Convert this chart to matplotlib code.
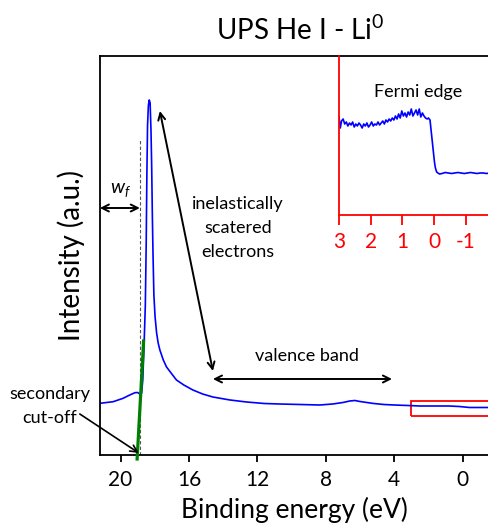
import matplotlib
matplotlib.use("Agg")
import matplotlib.pyplot as plt
from matplotlib.patches import Rectangle

plt.rcParams.update({
    "font.family": ["Lato", "DejaVu Sans"],
    "mathtext.fontset": "custom",
    "mathtext.rm": "Lato",
    "mathtext.it": "Lato:italic",
    "axes.linewidth": 1.3,
    "axes.unicode_minus": False,
})

# UPS He I spectrum (binding energy in eV, intensity in a.u.)
main_ev = [21.2, 20.43, 19.85, 19.46, 19.16, 19.0, 18.87, 18.77, 18.7, 18.62,
           18.55, 18.5, 18.46, 18.42, 18.37, 18.32, 18.27, 18.22, 18.18, 18.14,
           18.1, 18.05, 17.98, 17.89, 17.8, 17.7, 17.5, 17.31, 17.0, 16.73,
           16.3, 15.77, 15.2, 14.6, 13.6, 12.63, 11.6, 10.7, 9.5, 8.35,
           7.6, 7.0, 6.6, 6.3, 6.0, 5.6, 5.2, 4.6, 4.0, 3.2,
           2.5, 1.6, 0.8, 0.2, -0.1, -0.4, -0.8, -1.2, -1.6]
main_int = [51.7, 53.3, 56.7, 60, 62.3, 62.5, 61, 61.7, 75, 112,
            150, 210, 280, 330, 350, 355, 352, 325, 290, 240,
            200, 160, 138, 122, 112, 105, 95, 88, 81, 75,
            70, 65, 61, 58, 55, 53, 51.5, 51, 50.5, 50,
            51, 52.5, 54, 54.5, 53.5, 52.5, 51.5, 50.5, 50, 49.5,
            49, 49, 49, 48.5, 48, 47.5, 47.5, 47.5, 47.5]

# linear fit of the secondary cut-off
cutoff_ev = [19.03, 18.65]
cutoff_int = [-4, 114]

# Fermi edge zoom
fermi_ev = [3.00, 2.96, 2.92, 2.87, 2.82, 2.77, 2.72, 2.67, 2.62, 2.57,
            2.52, 2.47, 2.42, 2.37, 2.32, 2.27, 2.22, 2.17, 2.12, 2.07,
            2.02, 1.97, 1.92, 1.87, 1.82, 1.77, 1.72, 1.67, 1.62, 1.57,
            1.52, 1.47, 1.42, 1.37, 1.32, 1.27, 1.22, 1.17, 1.12, 1.07,
            1.02, 0.97, 0.92, 0.87, 0.82, 0.77, 0.72, 0.67, 0.62, 0.57,
            0.52, 0.47, 0.42, 0.37, 0.32, 0.27, 0.22, 0.18, 0.13, 0.10,
            0.06, 0.02, -0.01, -0.04, -0.08, -0.12, -0.17, -0.25, -0.35, -0.45,
            -0.55, -0.65, -0.75, -0.85, -0.95, -1.05, -1.15, -1.25, -1.35, -1.45,
            -1.55, -1.65, -1.75]
fermi_int = [98, 87, 94, 96, 91, 93, 89, 92, 90, 93,
             88, 91, 89, 92, 90, 87, 91, 89, 92, 88,
             90, 93, 89, 91, 90, 93, 90, 92, 94, 91,
             95, 93, 96, 94, 97, 95, 99, 96, 101, 97,
             104, 99, 102, 98, 103, 100, 106, 99, 102, 105,
             100, 106, 98, 102, 99, 97, 96, 97, 95, 86,
             74, 62, 53, 47, 43, 42, 41, 41.5, 42.5, 42,
             41.5, 42, 42.5, 42, 41.5, 42, 42.5, 42, 41.5, 42,
             42, 41.5, 42]

fig = plt.figure(figsize=(4.89, 5.29), dpi=100)
ax = fig.add_axes([100/489, 74/529, 389/489, 399/529])

ax.plot(main_ev, main_int, color='blue', lw=1.2)
ax.plot(cutoff_ev, cutoff_int, color='green', lw=2.3, clip_on=False, zorder=3)
ax.plot([18.84, 18.84], [0, 315], color='#555555', lw=0.8, ls=(0, (3, 2)))
ax.add_patch(Rectangle((3, 39), -5, 15, fill=False, ec='red', lw=1.3))

ax.set_xlim(21.2, -1.54)
ax.set_ylim(0, 399)
ax.set_xticks([20, 16, 12, 8, 4, 0])
ax.set_yticks([])
ax.spines['right'].set_visible(False)
ax.tick_params(axis='x', direction='out', length=5, width=1.3, labelsize=15, pad=6)
ax.set_xlabel('Binding energy (eV)', fontsize=19, labelpad=5)
ax.set_ylabel('Intensity (a.u.)', fontsize=20, labelpad=11)

arrow = dict(arrowstyle='<->,head_length=0.5,head_width=0.25', color='black', lw=1.4,
             shrinkA=0, shrinkB=0)
ax.annotate('', xy=(17.70, 344), xytext=(14.60, 84), arrowprops=arrow)
ax.annotate('', xy=(14.6, 76), xytext=(4.13, 76), arrowprops=arrow)
ax.annotate('', xy=(21.21, 247), xytext=(18.87, 247), arrowprops=arrow,
            annotation_clip=False)
ax.annotate('', xy=(18.93, 2), xytext=(22.38, 41), annotation_clip=False,
            arrowprops=dict(arrowstyle='->,head_length=0.5,head_width=0.25',
                            color='black', lw=1.2, shrinkA=0, shrinkB=0))

ax.text(13.13, 227, 'inelastically\nscatered\nelectrons', fontsize=13,
        ha='center', va='center', multialignment='center', linespacing=1.65)
ax.text(9.11, 99, 'valence band', fontsize=13, ha='center', va='center')
ax.text(24.13, 49, 'secondary\ncut-off', fontsize=13, ha='center', va='center',
        multialignment='center', linespacing=1.55, clip_on=False)
ax.text(20.0, 265, '$w_f$', fontsize=14, ha='center', va='center')

fig.text(300/489, 1 - 30/529, 'UPS He I - Li$^0$', fontsize=20, ha='center', va='center')

# inset with the Fermi edge
ins = fig.add_axes([339/489, 314/529, 150/489, 159/529])
ins.patch.set_alpha(0)
ins.plot(fermi_ev, fermi_int, color='blue', lw=1.2)
ins.set_xlim(3, -1.73)
ins.set_ylim(0, 159)
ins.set_xticks([3, 2, 1, 0, -1])
ins.set_yticks([])
for s in ['top', 'right']:
    ins.spines[s].set_visible(False)
for s in ['left', 'bottom']:
    ins.spines[s].set_color('red')
ins.tick_params(axis='x', colors='red', direction='out', length=7, width=1.3,
                labelsize=15, pad=5)
ins.text(0.51, 123, 'Fermi edge', fontsize=13, ha='center', va='center')

fig.savefig('out.png', dpi=100)
